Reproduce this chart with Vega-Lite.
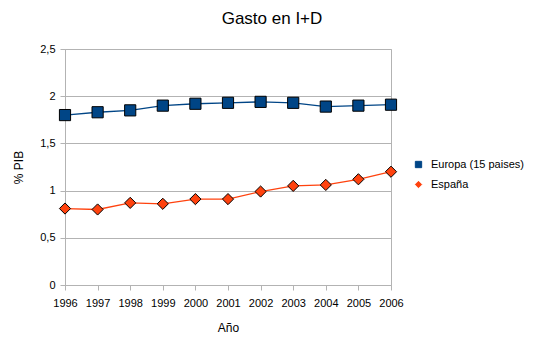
{
  "$schema": "https://vega.github.io/schema/vega-lite/v6.json",
  "autosize": "none",
  "padding": {"left": 65, "top": 49, "right": 154, "bottom": 68},
  "width": 326,
  "height": 236,
  "background": "white",
  "config": {
    "font": "Liberation Sans",
    "view": {"stroke": "#b3b3b3", "strokeWidth": 1}
  },
  "title": {
    "text": "Gasto en I+D",
    "fontSize": 17,
    "fontWeight": "normal",
    "color": "#000000",
    "anchor": "middle",
    "dx": 44,
    "offset": 15
  },
  "data": {
    "values": [
      {"year": 1996, "serie": "Europa (15 paises)", "pib": 1.80},
      {"year": 1997, "serie": "Europa (15 paises)", "pib": 1.83},
      {"year": 1998, "serie": "Europa (15 paises)", "pib": 1.85},
      {"year": 1999, "serie": "Europa (15 paises)", "pib": 1.90},
      {"year": 2000, "serie": "Europa (15 paises)", "pib": 1.92},
      {"year": 2001, "serie": "Europa (15 paises)", "pib": 1.93},
      {"year": 2002, "serie": "Europa (15 paises)", "pib": 1.94},
      {"year": 2003, "serie": "Europa (15 paises)", "pib": 1.93},
      {"year": 2004, "serie": "Europa (15 paises)", "pib": 1.89},
      {"year": 2005, "serie": "Europa (15 paises)", "pib": 1.90},
      {"year": 2006, "serie": "Europa (15 paises)", "pib": 1.91},
      {"year": 1996, "serie": "España", "pib": 0.81},
      {"year": 1997, "serie": "España", "pib": 0.80},
      {"year": 1998, "serie": "España", "pib": 0.87},
      {"year": 1999, "serie": "España", "pib": 0.86},
      {"year": 2000, "serie": "España", "pib": 0.91},
      {"year": 2001, "serie": "España", "pib": 0.91},
      {"year": 2002, "serie": "España", "pib": 0.99},
      {"year": 2003, "serie": "España", "pib": 1.05},
      {"year": 2004, "serie": "España", "pib": 1.06},
      {"year": 2005, "serie": "España", "pib": 1.12},
      {"year": 2006, "serie": "España", "pib": 1.20}
    ]
  },
  "encoding": {
    "x": {
      "field": "year",
      "type": "quantitative",
      "scale": {"domain": [1996, 2006], "nice": false, "zero": false},
      "axis": {
        "title": "Año",
        "values": [1996, 1997, 1998, 1999, 2000, 2001, 2002, 2003, 2004, 2005, 2006],
        "format": "d",
        "grid": false,
        "domainColor": "#b3b3b3",
        "tickColor": "#b3b3b3",
        "tickSize": 5,
        "labelPadding": 7,
        "labelFontSize": 11,
        "labelColor": "#000000",
        "labelFlush": false,
        "labelOverlap": false,
        "titleFontSize": 12,
        "titleFontWeight": "normal",
        "titleColor": "#000000",
        "titlePadding": 14
      }
    },
    "y": {
      "field": "pib",
      "type": "quantitative",
      "scale": {"domain": [0, 2.5], "nice": false},
      "axis": {
        "title": "% PIB",
        "values": [0, 0.5, 1, 1.5, 2, 2.5],
        "labelExpr": "replace(format(datum.value, '~g'), '.', ',')",
        "gridColor": "#b3b3b3",
        "domainColor": "#b3b3b3",
        "tickColor": "#b3b3b3",
        "tickSize": 5,
        "labelPadding": 5,
        "labelFontSize": 11,
        "labelColor": "#000000",
        "titleFontSize": 12,
        "titleFontWeight": "normal",
        "titleColor": "#000000",
        "titlePadding": 14
      }
    }
  },
  "layer": [
    {
      "mark": {"type": "line", "strokeWidth": 1.3},
      "encoding": {
        "color": {
          "field": "serie",
          "type": "nominal",
          "scale": {"domain": ["Europa (15 paises)", "España"], "range": ["#004586", "#ff420e"]}
        }
      }
    },
    {
      "mark": {"type": "point", "filled": true, "stroke": "#000000", "strokeWidth": 1, "opacity": 1, "size": 125},
      "encoding": {
        "shape": {
          "field": "serie",
          "type": "nominal",
          "scale": {"domain": ["Europa (15 paises)", "España"], "range": ["square", "diamond"]},
          "legend": {
            "title": null,
            "orient": "none",
            "legendX": 348,
            "legendY": 110,
            "padding": 0,
            "labelFontSize": 11,
            "labelColor": "#000000",
            "symbolSize": 40,
            "symbolStrokeColor": "#000000",
            "symbolStrokeWidth": 1,
            "rowPadding": 8,
            "labelOffset": 7
          }
        },
        "color": {
          "field": "serie",
          "type": "nominal",
          "scale": {"domain": ["Europa (15 paises)", "España"], "range": ["#004586", "#ff420e"]}
        }
      }
    }
  ]
}
